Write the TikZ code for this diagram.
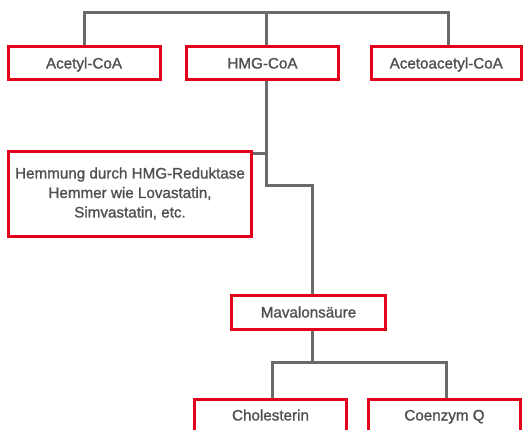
\documentclass[tikz,border=0pt]{standalone}
\usepackage{fontspec}
\setmainfont{Liberation Sans}[FakeBold=1.2]
\definecolor{boxred}{HTML}{E2001A}
\definecolor{linegray}{HTML}{6A6A6A}
\definecolor{textgray}{HTML}{505050}
\begin{document}
\begin{tikzpicture}[x=1pt,y=-1pt,
  box/.style={draw=boxred,line width=3pt,rectangle,inner sep=0pt},
  lbl/.style={text=textgray,font=\fontsize{15.2}{19.5}\selectfont,inner sep=0pt,anchor=base},
  conn/.style={draw=linegray,line width=3pt}]
\useasboundingbox (0,0) rectangle (530,430);
\fill[white] (0,0) rectangle (530,430);
% boxes
\node[box,minimum width=152pt,minimum height=33.5pt] (acetyl) at (84,63.25) {};
\node[box,minimum width=152pt,minimum height=33.5pt] (hmg) at (262.5,63.25) {};
\node[box,minimum width=149.5pt,minimum height=33.5pt] (aceto) at (446.25,63.25) {};
\node[box,minimum width=243pt,minimum height=85pt] (hemm) at (130,194) {};
\node[box,minimum width=154pt,minimum height=34pt] (maval) at (308.5,312.5) {};
\node[box,minimum width=152pt,minimum height=45pt] (chol) at (270.5,422) {};
\node[box,minimum width=152pt,minimum height=45pt] (coen) at (444.5,422) {};
% labels
\node[lbl] (tacetyl) at (84,68.5) {Acetyl-CoA};
\node[lbl] (thmg) at (262.5,68.5) {HMG-CoA};
\node[lbl] (taceto) at (446.25,68.5) {Acetoacetyl-CoA};
\node[lbl] (th1) at (130,178.5) {Hemmung durch HMG-Reduktase};
\node[lbl] (th2) at (130,198) {Hemmer wie Lovastatin,};
\node[lbl] (th3) at (130,217.5) {Simvastatin, etc.};
\node[lbl] (tmaval) at (308.5,317.5) {Mavalonsäure};
\node[lbl] (tchol) at (270.5,420.5) {Cholesterin};
\node[lbl] (tcoen) at (444.5,420.5) {Coenzym Q};
% bus coordinates
\coordinate (b1) at (84,12.7);
\coordinate (b2) at (266,12.7);
\coordinate (b3) at (448,12.7);
\coordinate (k1) at (266,186);
\coordinate (k2) at (312.3,186);
\coordinate (h1) at (266,154);
\coordinate (m1) at (312.3,362);
\coordinate (c1) at (272,362);
\coordinate (c2) at (446,362);
% connectors
\draw[conn] (b1 |- acetyl.north) -- (b1) -- (b3) -- (b3 |- aceto.north);
\draw[conn] (b2) -- (b2 |- hmg.north);
\draw[conn] (b2 |- hmg.south) -- (k1) -- (k2) -- (k2 |- maval.north);
\draw[conn] (hemm.east |- h1) -- (h1);
\draw[conn] (m1 |- maval.south) -- (m1);
\draw[conn] (c1 |- chol.north) -- (c1) -- (c2) -- (c2 |- coen.north);
\end{tikzpicture}
\end{document}
